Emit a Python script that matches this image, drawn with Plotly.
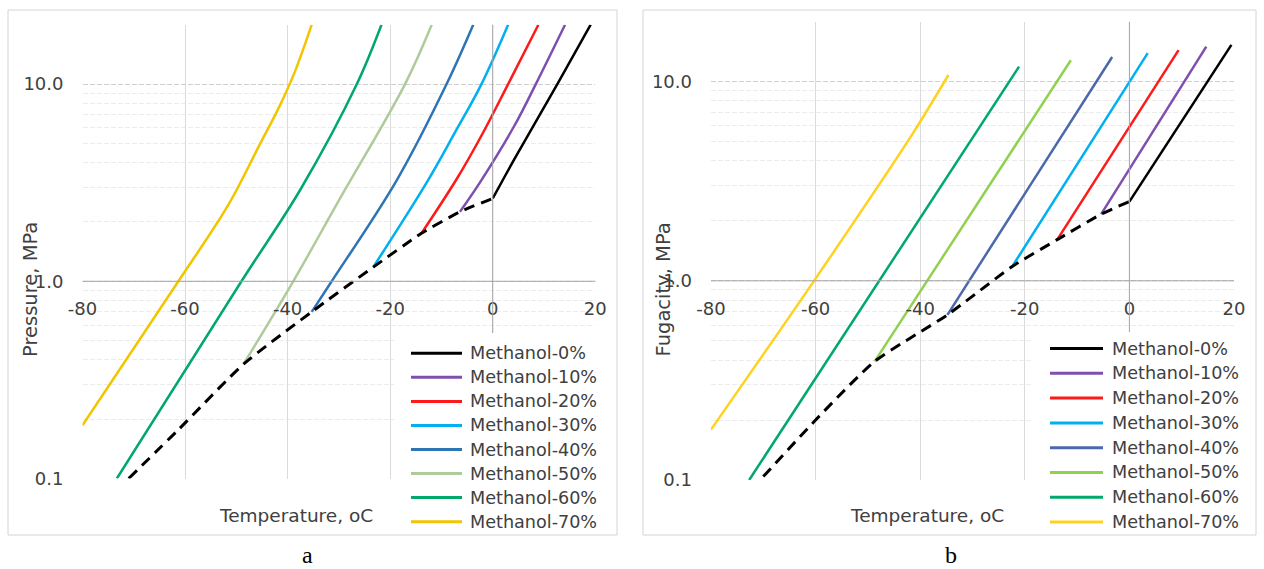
import plotly.graph_objects as go

# ---------------- data ----------------
series_names = ["Methanol-0%", "Methanol-10%", "Methanol-20%", "Methanol-30%",
                "Methanol-40%", "Methanol-50%", "Methanol-60%", "Methanol-70%"]

# (a) hydrate equilibrium pressure, MPa, vs temperature, oC
a_temp_0 = [0.0, 4.3, 12.6, 19.1]
a_pres_0 = [2.63, 4.2, 10.0, 20.0]
a_temp_10 = [-6.4, -2.2, 4.3, 8.4, 14.1]
a_pres_10 = [2.25, 3.26, 6.2, 10.0, 20.0]
a_temp_20 = [-13.9, -7.0, -2.0, 3.0, 8.9]
a_pres_20 = [1.75, 3.31, 5.6, 10.0, 20.0]
a_temp_30 = [-23.3, -12.6, -7.5, -2.2, 3.0]
a_pres_30 = [1.18, 3.26, 5.6, 10.0, 20.0]
a_temp_40 = [-35.3, -31.4, -18.7, -9.0, -3.8]
a_pres_40 = [0.70, 1.0, 3.26, 10.0, 20.0]
a_temp_50 = [-48.6, -38.9, -30.0, -17.1, -11.9]
a_pres_50 = [0.38, 1.0, 2.57, 10.0, 20.0]
a_temp_60 = [-73.3, -49.0, -37.5, -26.5, -21.7]
a_pres_60 = [0.10, 1.0, 2.92, 10.0, 20.0]
a_temp_70 = [-80.0, -61.3, -51.6, -45.5, -41.5, -38.5, -35.3]
a_pres_70 = [0.186, 1.0, 2.43, 4.9, 7.8, 11.7, 20.0]
a_ice_temp = [-71.0, -61.0, -48.6, -35.3, -23.3, -13.9, -6.4, 0.0]
a_ice_pres = [0.10, 0.18, 0.38, 0.70, 1.18, 1.75, 2.25, 2.63]

# (b) fugacity, MPa, vs temperature, oC
b_temp_0 = [0.0, 19.5]
b_fug_0 = [2.50, 15.3]
b_temp_10 = [-5.4, 14.7]
b_fug_10 = [2.16, 15.0]
b_temp_20 = [-13.8, 9.4]
b_fug_20 = [1.61, 14.4]
b_temp_30 = [-22.4, 3.5]
b_fug_30 = [1.18, 13.9]
b_temp_40 = [-34.8, -3.3]
b_fug_40 = [0.675, 13.3]
b_temp_50 = [-48.7, -11.2]
b_fug_50 = [0.394, 12.8]
b_temp_60 = [-72.7, -21.1]
b_fug_60 = [0.10, 11.9]
b_temp_70 = [-80.0, -60.3, -41.4, -34.6]
b_fug_70 = [0.179, 1.0, 5.5, 10.8]
b_ice_temp = [-70.0, -60.0, -48.7, -34.8, -22.4, -13.8, -5.4, 0.0]
b_ice_fug = [0.104, 0.20, 0.394, 0.675, 1.18, 1.61, 2.16, 2.50]

x_ticks = [-80, -60, -40, -20, 0, 20]
x_ticktext = ["-80", "-60", "-40", "-20", "0", "20"]
y_tickvals = [0.1, 1, 10]
y_ticktext = ["0.1", "1.0", "10.0"]
y_minor = [0.2, 0.3, 0.4, 0.5, 0.6, 0.7, 0.8, 0.9, 2, 3, 4, 5, 6, 7, 8, 9, 20]

# ---------------- styling ----------------
colors_a = ["#000000", "#7F4FB0", "#FF1A1A", "#00B0F0",
            "#2E75B6", "#AFCB9C", "#00A86B", "#F2C500"]
colors_b = ["#000000", "#7F4FB0", "#FF1A1A", "#00B0F0",
            "#4B68AC", "#92D050", "#00A86B", "#FFD21F"]

W, H = 1264, 569
FONT = "DejaVu Sans"
TXT = "#404040"


def fx(x):
    return x / W


def fy(y):
    return 1 - y / H


a_curves = list(zip([a_temp_0, a_temp_10, a_temp_20, a_temp_30, a_temp_40, a_temp_50, a_temp_60, a_temp_70],
                    [a_pres_0, a_pres_10, a_pres_20, a_pres_30, a_pres_40, a_pres_50, a_pres_60, a_pres_70]))
b_curves = list(zip([b_temp_0, b_temp_10, b_temp_20, b_temp_30, b_temp_40, b_temp_50, b_temp_60, b_temp_70],
                    [b_fug_0, b_fug_10, b_fug_20, b_fug_30, b_fug_40, b_fug_50, b_fug_60, b_fug_70]))

fig = go.Figure()

for (t, v), name, c in zip(a_curves, series_names, colors_a):
    fig.add_trace(go.Scatter(x=t, y=v, mode="lines", name=name, showlegend=False,
                             line=dict(color=c, width=2.5, shape="spline", smoothing=1.0),
                             xaxis="x", yaxis="y"))
fig.add_trace(go.Scatter(x=a_ice_temp, y=a_ice_pres, mode="lines", showlegend=False,
                         line=dict(color="#000000", width=3, dash="11px,7px", shape="spline", smoothing=0.6),
                         xaxis="x", yaxis="y"))

for (t, v), name, c in zip(b_curves, series_names, colors_b):
    fig.add_trace(go.Scatter(x=t, y=v, mode="lines", name=name, showlegend=False,
                             line=dict(color=c, width=2.5, shape="spline", smoothing=0.8),
                             xaxis="x2", yaxis="y2"))
fig.add_trace(go.Scatter(x=b_ice_temp, y=b_ice_fug, mode="lines", showlegend=False,
                         line=dict(color="#000000", width=3, dash="11px,7px", shape="spline", smoothing=0.6),
                         xaxis="x2", yaxis="y2"))

# panel geometry in pixels: plot-area left, right, top(20 MPa), bottom(0.1 MPa)
panels = [
    dict(x0=82.5, x1=595.3, top=24.7, bot=478.5, frame=(8, 10, 617, 535),
         title="Pressure, MPa", ytitle_xy=(30, 290), xtitle_xy=(296, 515),
         leg_box=(394, 333, 616, 534), leg_line=(411, 462), leg_text=468, leg_y0=353.3, leg_dy=24.05,
         colors=colors_a, label="a", label_xy=(307, 555)),
    dict(x0=711.0, x1=1234.0, top=21.7, bot=480.0, frame=(643, 10, 1256, 535),
         title="Fugacity, MPa", ytitle_xy=(663, 289.5), xtitle_xy=(927, 515),
         leg_box=(1032, 332, 1255, 534), leg_line=(1050, 1103), leg_text=1110, leg_y0=348.5, leg_dy=24.8,
         colors=colors_b, label="b", label_xy=(951, 555)),
]

layout_axes = {}
shapes = []
annotations = []
for i, p in enumerate(panels):
    sfx = "" if i == 0 else str(i + 1)
    ydom = [fy(p["bot"]), fy(p["top"])]
    # x axis crosses the value axis at 1.0 MPa
    frac_one = 1 / 2.30103
    xpos = ydom[0] + frac_one * (ydom[1] - ydom[0])
    layout_axes["xaxis" + sfx] = dict(
        domain=[fx(p["x0"]), fx(p["x1"])], range=[-80, 20], tickmode="array",
        tickvals=x_ticks, ticktext=x_ticktext, automargin=False,
        showgrid=True, gridcolor="#dadada", gridwidth=1, zeroline=False,
        showline=False, anchor="free", position=xpos,
        ticks="", ticklabelstandoff=15, tickfont=dict(family=FONT, size=18, color=TXT),
    )
    layout_axes["yaxis" + sfx] = dict(
        type="log", domain=ydom, range=[-1, 1.30103], anchor="x" + sfx, automargin=False,
        tickmode="array", tickvals=y_tickvals, ticktext=y_ticktext,
        showgrid=True, gridcolor="#cfcfcf", gridwidth=1, griddash="5px,2px",
        minor=dict(tickmode="array", tickvals=y_minor, showgrid=True, gridcolor="#ececec", ticks=""),
        zeroline=False, showline=False, ticks="", ticklabelstandoff=18,
        tickfont=dict(family=FONT, size=18, color=TXT),
    )
    # outer chart frame
    fx0, fy0, fx1, fy1 = p["frame"]
    shapes.append(dict(type="rect", xref="paper", yref="paper", x0=fx(fx0), x1=fx(fx1), y0=fy(fy1), y1=fy(fy0),
                       line=dict(color="#d4d4d4", width=1), fillcolor="rgba(0,0,0,0)", layer="below"))
    # category axis line at 1.0 MPa and value axis line at 0 oC
    shapes.append(dict(type="line", xref="x" + sfx + " domain", yref="y" + sfx, x0=0, x1=1, y0=1, y1=1,
                       line=dict(color="#a6a6a6", width=1), layer="above"))
    shapes.append(dict(type="line", xref="x" + sfx, yref="paper", x0=0, x1=0, y0=ydom[0], y1=ydom[1],
                       line=dict(color="#a6a6a6", width=1), layer="above"))
    # legend box
    lx0, ly0, lx1, ly1 = p["leg_box"]
    shapes.append(dict(type="rect", xref="paper", yref="paper", x0=fx(lx0), x1=fx(lx1), y0=fy(ly1), y1=fy(ly0),
                       line=dict(width=0), fillcolor="white", layer="above"))
    for k, (name, c) in enumerate(zip(series_names, p["colors"])):
        yy = p["leg_y0"] + k * p["leg_dy"]
        shapes.append(dict(type="line", xref="paper", yref="paper",
                           x0=fx(p["leg_line"][0]), x1=fx(p["leg_line"][1]), y0=fy(yy), y1=fy(yy),
                           line=dict(color=c, width=3), layer="above"))
        annotations.append(dict(xref="paper", yref="paper", x=fx(p["leg_text"]), y=fy(yy), text=name,
                                showarrow=False, xanchor="left", yanchor="middle",
                                font=dict(family=FONT, size=17.6, color=TXT)))
    # axis titles
    annotations.append(dict(xref="paper", yref="paper", x=fx(p["xtitle_xy"][0]), y=fy(p["xtitle_xy"][1]),
                            text="Temperature, oC", showarrow=False, xanchor="center", yanchor="middle",
                            font=dict(family=FONT, size=18.5, color=TXT)))
    annotations.append(dict(xref="paper", yref="paper", x=fx(p["ytitle_xy"][0]), y=fy(p["ytitle_xy"][1]),
                            text=p["title"], showarrow=False, textangle=-90, xanchor="center", yanchor="middle",
                            font=dict(family=FONT, size=19.5, color=TXT)))
    # panel letter
    annotations.append(dict(xref="paper", yref="paper", x=fx(p["label_xy"][0]), y=fy(p["label_xy"][1]),
                            text=p["label"], showarrow=False, xanchor="center", yanchor="middle",
                            font=dict(family="Liberation Serif", size=24, color="#000000")))

fig.update_layout(
    width=W, height=H, margin=dict(l=0, r=0, t=0, b=0, autoexpand=False),
    paper_bgcolor="white", plot_bgcolor="white", showlegend=False,
    shapes=shapes, annotations=annotations, **layout_axes,
)

fig.write_html("out.html")
